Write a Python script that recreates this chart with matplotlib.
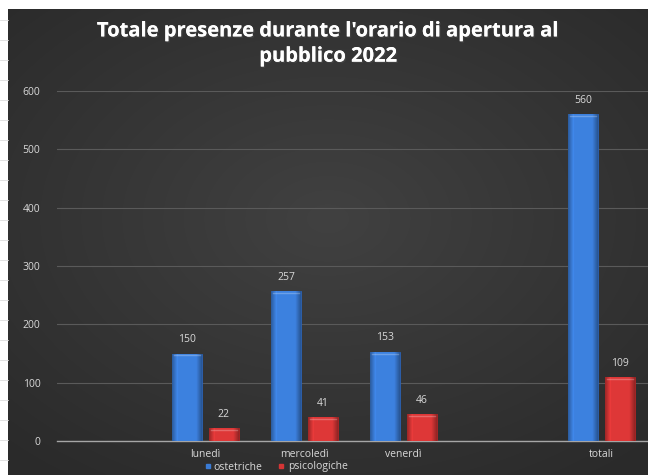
import numpy as np
import matplotlib.pyplot as plt
import matplotlib.patheffects as pe
from matplotlib.lines import Line2D
from matplotlib.colors import to_rgb

categories = ["", "lunedì", "mercoledì", "venerdì", "", "totali"]
ostetriche = [np.nan, 150, 257, 153, np.nan, 560]
psicologiche = [np.nan, 22, 41, 46, np.nan, 109]
yticks = [0, 100, 200, 300, 400, 500, 600]

W, H = 648, 475
fig = plt.figure(figsize=(W / 100, H / 100), dpi=100)
fig.patch.set_facecolor("white")

# spreadsheet strip on the left
for yy in range(20, H, 20):
    fig.add_artist(Line2D([0, 8 / W], [1 - yy / H, 1 - yy / H], color="#dcdcdc", lw=0.6))

# chart background with a soft radial gradient
bg = fig.add_axes([8 / W, 0, 1 - 8 / W, 1 - 9 / H])
gx, gy = np.meshgrid(np.linspace(-1, 1, 300), np.linspace(-1, 1, 220))
r = np.sqrt(gx ** 2 * 0.9 + (gy + 0.1) ** 2)
shade = 0.255 - 0.09 * np.clip(r, 0, 1.4) / 1.4
img = np.dstack([shade, shade, shade])
bg.imshow(img, aspect="auto", extent=[0, 1, 0, 1], interpolation="bilinear")
bg.set_axis_off()

ax = fig.add_axes([57 / W, 34 / H, 594 / W, 350 / H])
ax.patch.set_alpha(0)
x = np.arange(len(categories))
w = 0.3
off = 0.185
blue, red = "#3a7bd5", "#d43535"
b1 = ax.bar(x - off, ostetriche, w, color=blue, edgecolor="#2a5fae", linewidth=0.6, zorder=3)
b2 = ax.bar(x + off, psicologiche, w, color=red, edgecolor="#a82424", linewidth=0.6, zorder=3)

# bevel look: horizontal gradient clipped to each bar
prof = np.concatenate([np.linspace(0.75, 1.12, 8), np.ones(24) * 1.05, np.linspace(1.05, 0.7, 8)])
for bars, col in [(b1, blue), (b2, red)]:
    c = np.array(to_rgb(col))
    grad = np.clip(prof[None, :, None] * c[None, None, :], 0, 1)
    for p in bars:
        h = p.get_height()
        if np.isnan(h):
            continue
        x0 = p.get_x()
        im = ax.imshow(grad, extent=[x0, x0 + p.get_width(), 0, h], aspect="auto",
                       interpolation="bilinear", zorder=3.5)
        im.set_clip_path(p)
        # top cap highlight
        ax.plot([x0 + 0.02, x0 + p.get_width() - 0.02], [h - 3, h - 3], color="white", alpha=0.25,
                lw=1, zorder=4)

for xs, vals in [(x - off, ostetriche), (x + off, psicologiche)]:
    for xi, v in zip(xs, vals):
        if not np.isnan(v):
            ax.annotate(str(int(v)), (xi, v), xytext=(0, 6), textcoords="offset points",
                        ha="center", va="bottom", color="#d9d9d9", fontsize=7.5, family="Open Sans")

ax.set_xlim(-0.5, 5.5)
ax.set_ylim(0, 600)
ax.set_yticks(yticks)
ax.set_xticks(x)
ax.set_xticklabels(categories)
ax.grid(axis="y", color="#5a5a5a", lw=0.8, zorder=0)
ax.tick_params(length=0, colors="#d9d9d9", labelsize=7.5)
ax.tick_params(axis="y", pad=12)
ax.tick_params(axis="x", pad=6)
for lab in ax.get_xticklabels() + ax.get_yticklabels():
    lab.set_family("Open Sans")
for s in ["top", "right", "left"]:
    ax.spines[s].set_visible(False)
ax.spines["bottom"].set_color("#a6a6a6")
ax.spines["bottom"].set_linewidth(1)

fig.text(328 / W, 1 - 44 / H, "Totale presenze durante l'orario di apertura al\npubblico 2022",
         ha="center", va="center", color="white", fontsize=14.5, fontweight="bold",
         family="Open Sans", linespacing=1.35,
         path_effects=[pe.withSimplePatchShadow(offset=(1, -1), alpha=0.5), pe.Normal()])

handles = [Line2D([], [], marker="s", ls="", color=blue, markersize=3),
           Line2D([], [], marker="s", ls="", color=red, markersize=3)]
leg = fig.legend(handles, ["ostetriche", "psicologiche"], loc="center", bbox_to_anchor=(276 / W, 1 - 467 / H),
                 ncol=2, frameon=False, handlelength=0.6, handletextpad=0.3,
                 columnspacing=1.5, prop={"family": "Open Sans", "size": 7.5})
for t in leg.get_texts():
    t.set_color("#d9d9d9")

fig.savefig("out.png", dpi=100, facecolor=fig.get_facecolor())
